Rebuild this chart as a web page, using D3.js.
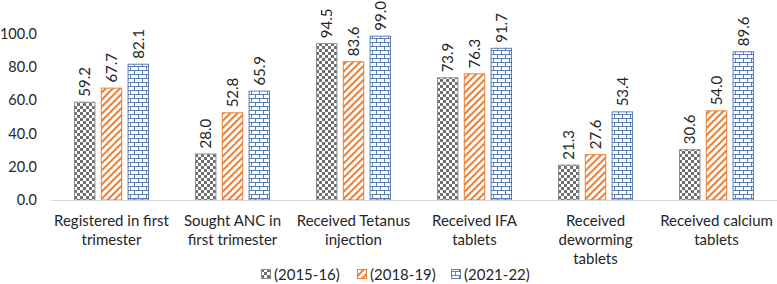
<!DOCTYPE html>
<html>
<head>
<meta charset="utf-8">
<script src="https://cdn.jsdelivr.net/npm/d3@7"></script>
<style>
  body { margin: 0; background: #fff; }
  text { font-family: Lato, "Open Sans", sans-serif; fill: #262626; }
</style>
</head>
<body>
<div id="chart"></div>
<script>
// data
var categories = [
  ["Registered in first", "trimester"],
  ["Sought ANC in", "first trimester"],
  ["Received Tetanus", "injection"],
  ["Received IFA", "tablets"],
  ["Received", "deworming", "tablets"],
  ["Received calcium", "tablets"]
];
var seriesNames = ["(2015-16)", "(2018-19)", "(2021-22)"];
var v2015 = [59.2, 28.0, 94.5, 73.9, 21.3, 30.6];
var v2018 = [67.7, 52.8, 83.6, 76.3, 27.6, 54.0];
var v2021 = [82.1, 65.9, 99.0, 91.7, 53.4, 89.6];
var yTicks = [0, 20, 40, 60, 80, 100];

var series = [v2015, v2018, v2021];

// setup dimensions
var margin = {top: 34, right: 0, bottom: 84, left: 51},
  width = 777 - margin.left - margin.right,
  height = 284 - margin.top - margin.bottom;

var svg = d3.select("#chart").append("svg")
  .attr("width", 777)
  .attr("height", 284);

// patterns
var defs = svg.append("defs");

var checker = defs.append("pattern")
  .attr("id", "p0").attr("patternUnits", "userSpaceOnUse")
  .attr("width", 6).attr("height", 6);
checker.append("rect").attr("width", 6).attr("height", 6).attr("fill", "#fff");
checker.append("rect").attr("width", 3).attr("height", 3).attr("fill", "#707070");
checker.append("rect").attr("x", 3).attr("y", 3).attr("width", 3).attr("height", 3).attr("fill", "#707070");

var diag = defs.append("pattern")
  .attr("id", "p1").attr("patternUnits", "userSpaceOnUse")
  .attr("width", 5).attr("height", 5)
  .attr("patternTransform", "rotate(45)");
diag.append("rect").attr("width", 5).attr("height", 5).attr("fill", "#fff");
diag.append("rect").attr("width", 2).attr("height", 5).attr("fill", "#ed7d31");

var brick = defs.append("pattern")
  .attr("id", "p2").attr("patternUnits", "userSpaceOnUse")
  .attr("width", 8).attr("height", 8);
brick.append("rect").attr("width", 8).attr("height", 8).attr("fill", "#fff");
brick.append("path")
  .attr("d", "M0,0.5H8M0,4.5H8M0.5,0V4M4.5,4V8")
  .attr("stroke", "#5b7db1").attr("stroke-width", 1).attr("fill", "none");

var fills = ["url(#p0)", "url(#p1)", "url(#p2)"];
var strokes = ["#8c8c8c", "#ed7d31", "#5b7db1"];

var g = svg.append("g")
  .attr("transform", "translate(" + margin.left + "," + margin.top + ")");

var x0 = d3.scaleBand()
  .domain(d3.range(categories.length))
  .range([0, width]);

var x1 = d3.scaleBand()
  .domain(d3.range(series.length))
  .range([0, 75])
  .paddingInner(0.2);

var y = d3.scaleLinear()
  .domain([0, 100])
  .range([height, 0]);

// y axis labels
g.selectAll("text.ytick")
  .data(yTicks)
  .enter().append("text")
  .attr("class", "ytick")
  .attr("x", -14)
  .attr("y", function(d) { return y(d); })
  .attr("dy", "0.35em")
  .attr("text-anchor", "end")
  .style("font-size", "14.5px")
  .text(function(d) { return d.toFixed(1); });

// bars
var groups = g.selectAll("g.grp")
  .data(categories)
  .enter().append("g")
  .attr("class", "grp")
  .attr("transform", function(d, i) {
    return "translate(" + (x0(i) + x0.bandwidth() / 2 - 37.5) + ",0)";
  });

groups.each(function(d, i) {
  var grp = d3.select(this);
  series.forEach(function(s, j) {
    grp.append("rect")
      .attr("x", x1(j) + 0.5)
      .attr("y", y(s[i]) + 0.5)
      .attr("width", x1.bandwidth() - 1)
      .attr("height", height - y(s[i]) - 0.5)
      .attr("fill", fills[j])
      .attr("stroke", strokes[j])
      .attr("stroke-width", 1);
    var lx = x1(j) + x1.bandwidth() / 2;
    var ly = y(s[i]) - 5;
    grp.append("text")
      .attr("transform", "translate(" + lx + "," + ly + ") rotate(-90)")
      .attr("dy", "0.35em")
      .style("font-size", "15px")
      .text(s[i].toFixed(1));
  });
});

// x axis line
g.append("line")
  .attr("x1", 0).attr("x2", width)
  .attr("y1", height + 0.5).attr("y2", height + 0.5)
  .attr("stroke", "#d9d9d9");

// category labels
groups.each(function(d, i) {
  var t = d3.select(this).append("text")
    .attr("text-anchor", "middle")
    .style("font-size", "15px");
  d.forEach(function(line, k) {
    t.append("tspan")
      .attr("x", 37.5)
      .attr("y", height + 26 + k * 19)
      .text(line);
  });
});

// legend
var legend = svg.append("g")
  .attr("transform", "translate(261,275)");
var legX = [0, 96, 190];
seriesNames.forEach(function(name, j) {
  var item = legend.append("g").attr("transform", "translate(" + legX[j] + ",0)");
  item.append("rect")
    .attr("x", 0.5).attr("y", -5.5)
    .attr("width", 9).attr("height", 9)
    .attr("fill", fills[j])
    .attr("stroke", strokes[j]);
  item.append("text")
    .attr("x", 13).attr("y", 0)
    .attr("dy", "0.35em")
    .style("font-size", "15px")
    .text(name);
});
</script>
</body>
</html>
